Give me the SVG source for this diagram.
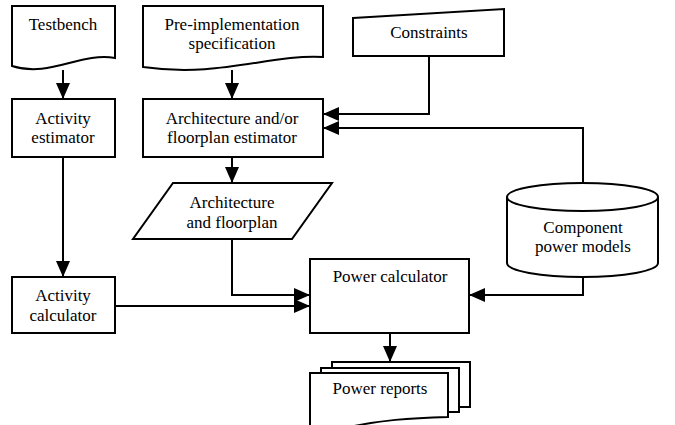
<svg xmlns="http://www.w3.org/2000/svg" width="675" height="425" viewBox="0 0 675 425">
  <style>
    .shape { fill: #fff; stroke: #000; stroke-width: 2; stroke-linejoin: miter; }
    .wire { fill: none; stroke: #000; stroke-width: 2; }
    .lbl { font-family: "Liberation Serif", "Times New Roman", Times, "DejaVu Serif", "Noto Serif", serif; font-size: 17px; fill: #000; text-anchor: middle; }
  </style>
  <defs>
    <marker id="head" markerUnits="userSpaceOnUse" markerWidth="16" markerHeight="16" viewBox="0 0 16 14" refX="16" refY="7" orient="auto">
      <path d="M0,0 L16,7 L0,14 Z" fill="#000"/>
    </marker>
  </defs>

  <rect width="675" height="425" fill="#fff"/>

  <g id="connectors">
    <path class="wire" d="M63,70 V99" marker-end="url(#head)"/>
    <path class="wire" d="M232,70 V99" marker-end="url(#head)"/>
    <path class="wire" d="M429,56 V114 H323" marker-end="url(#head)"/>
    <path class="wire" d="M583,183 V128 H323" marker-end="url(#head)"/>
    <path class="wire" d="M232,157 V183" marker-end="url(#head)"/>
    <path class="wire" d="M63,157 V277" marker-end="url(#head)"/>
    <path class="wire" d="M232,239 V295 H310" marker-end="url(#head)"/>
    <path class="wire" d="M115,306 H310" marker-end="url(#head)"/>
    <path class="wire" d="M583,277 V295 H469" marker-end="url(#head)"/>
    <path class="wire" d="M390,333 V362" marker-end="url(#head)"/>
  </g>

  <g id="testbench">
    <path class="shape" d="M12,6 H115 V58 C80,52 50,78 12,66 Z"/>
    <text class="lbl" x="63" y="30" font-family="Liberation Serif, serif">Testbench</text>
  </g>

  <g id="spec">
    <path class="shape" d="M143,6 H323 V57 C270,54 220,78 143,67 Z"/>
    <text class="lbl" x="232" y="30">Pre-implementation</text>
    <text class="lbl" x="232" y="49">specification</text>
  </g>

  <g id="constraints">
    <path class="shape" d="M353,18 L504,9 V56 H353 Z"/>
    <text class="lbl" x="429" y="38">Constraints</text>
  </g>

  <g id="activity-estimator">
    <rect class="shape" x="12" y="99" width="103" height="58"/>
    <text class="lbl" x="63" y="124">Activity</text>
    <text class="lbl" x="63" y="143">estimator</text>
  </g>

  <g id="arch-estimator">
    <rect class="shape" x="143" y="99" width="180" height="58"/>
    <text class="lbl" x="232" y="124">Architecture and/or</text>
    <text class="lbl" x="232" y="143">floorplan estimator</text>
  </g>

  <g id="arch-floorplan">
    <path class="shape" d="M173,183 H332 L292,239 H133 Z"/>
    <text class="lbl" x="232" y="208">Architecture</text>
    <text class="lbl" x="232" y="228">and floorplan</text>
  </g>

  <g id="power-models">
    <path class="shape" d="M507,197 V263 A75.5,14 0 0 0 658,263 V197"/>
    <ellipse class="shape" cx="582.5" cy="197" rx="75.5" ry="14"/>
    <text class="lbl" x="583" y="233">Component</text>
    <text class="lbl" x="583" y="252">power models</text>
  </g>

  <g id="activity-calculator">
    <rect class="shape" x="12" y="277" width="103" height="56"/>
    <text class="lbl" x="63" y="301">Activity</text>
    <text class="lbl" x="63" y="321">calculator</text>
  </g>

  <g id="power-calculator">
    <rect class="shape" x="310" y="259" width="159" height="74"/>
    <text class="lbl" x="390" y="282">Power calculator</text>
  </g>

  <g id="power-reports">
    <path class="shape" d="M332,362 H470 V407 H332 Z"/>
    <path class="shape" d="M321,368 H459 V412 H321 Z"/>
    <path class="shape" d="M310,373 H448 V417 C410,418 380,420 345,428 L310,428 Z"/>
    <text class="lbl" x="380" y="394">Power reports</text>
  </g>
</svg>
